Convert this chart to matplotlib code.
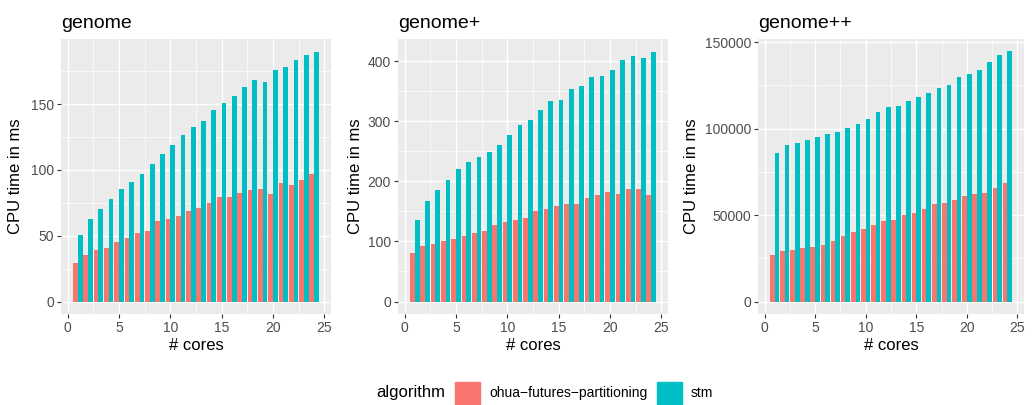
import numpy as np
import matplotlib
matplotlib.use('Agg')
import matplotlib.pyplot as plt
from matplotlib.patches import Rectangle

plt.rcParams['font.family'] = ['Liberation Sans', 'DejaVu Sans']

# --- data ---
cores = list(range(1, 25))
panels = ['genome', 'genome+', 'genome++']

genome_ohua = [29.3, 35.4, 39.1, 40.7, 45.2, 48.2, 52.0, 53.5, 61.1, 62.6, 64.9, 68.7,
               71.0, 74.7, 79.3, 79.3, 82.3, 84.6, 85.4, 81.6, 89.9, 88.4, 92.2, 96.7]
genome_stm = [50.5, 62.6, 70.2, 77.8, 85.4, 90.7, 96.7, 104.3, 111.9, 118.7, 126.3, 132.3,
              136.9, 145.2, 150.5, 155.8, 162.6, 167.9, 166.4, 175.5, 177.8, 183.8, 186.9, 189.9]

genomep_ohua = [81.3, 92.9, 96.3, 101.2, 104.6, 109.5, 114.5, 117.8, 127.8, 132.8, 136.1, 139.4,
                151.0, 154.4, 159.3, 162.7, 162.7, 172.6, 177.6, 182.6, 179.3, 187.6, 187.6, 177.6]
genomep_stm = [136.1, 167.6, 185.9, 202.5, 220.7, 232.4, 240.7, 249.0, 260.6, 277.2, 293.8, 302.1,
               318.7, 333.6, 335.3, 353.5, 358.5, 373.4, 375.1, 385.1, 401.7, 408.3, 406.6, 416.6]

genomepp_ohua = [26900, 29200, 29800, 31000, 31500, 32700, 35000, 37900, 40200, 41900, 44200, 46500,
                 47100, 50000, 51200, 53500, 56300, 56900, 58700, 61000, 62100, 62700, 65600, 68500]
genomepp_stm = [85800, 90400, 91500, 93300, 95000, 96700, 97900, 100200, 102500, 105400, 109400, 112300,
                112900, 115800, 118100, 120400, 123300, 125000, 129600, 131300, 133700, 138300, 142300, 144600]

ohua = [genome_ohua, genomep_ohua, genomepp_ohua]
stm = [genome_stm, genomep_stm, genomepp_stm]
y_major = [[0, 50, 100, 150], [0, 100, 200, 300, 400], [0, 50000, 100000, 150000]]
y_minor = [[25, 75, 125, 175], [50, 150, 250, 350], [25000, 75000, 125000]]

RED = '#F8766D'
TEAL = '#00BFC4'
W, H = 1033, 405

fig = plt.figure(figsize=(W / 100, H / 100), dpi=100)

# panel boxes in pixels: left, top, right, bottom
boxes = [(61, 39, 331, 314), (398, 39, 668, 314), (758, 39, 1024, 314)]
ylab_x = [16, 356, 692]

x = np.array(cores)
bw = 0.46
for i, (l, t, r, b) in enumerate(boxes):
    ax = fig.add_axes([l / W, 1 - b / H, (r - l) / W, (b - t) / H])
    ax.set_facecolor('#EBEBEB')
    for s in ax.spines.values():
        s.set_visible(False)
    ax.bar(x - bw / 2, ohua[i], width=bw, color=RED, zorder=3)
    ax.bar(x + bw / 2, stm[i], width=bw, color=TEAL, zorder=3)

    ymax = max(max(ohua[i]), max(stm[i]))
    ax.set_ylim(-0.05 * ymax, 1.05 * ymax)
    ax.set_xlim(0.55 - 0.05 * 23.9, 24.45 + 0.05 * 23.9)

    ax.set_xticks([0, 5, 10, 15, 20, 25])
    ax.set_xticks([2.5, 7.5, 12.5, 17.5, 22.5], minor=True)
    ax.set_yticks(y_major[i])
    ax.set_yticks(y_minor[i], minor=True)
    ax.grid(which='major', color='white', lw=1.0, zorder=1)
    ax.grid(which='minor', color='white', lw=0.5, zorder=1)
    ax.tick_params(which='major', length=2.75, width=0.8, color='#333333',
                   labelcolor='#4D4D4D', labelsize=10, pad=2.2)
    ax.tick_params(which='minor', length=0)

    fig.text(l / W, 1 - 28 / H, panels[i], fontsize=14, ha='left', va='baseline')
    fig.text((l + r) / 2 / W, 1 - 346 / H, '# cores', fontsize=12, ha='center', va='center')
    fig.text(ylab_x[i] / W, 1 - (t + b) / 2 / H, 'CPU time in ms', fontsize=12,
             rotation=90, ha='center', va='center')

# legend at the bottom
fig.text(445 / W, 1 - 393 / H, 'algorithm', fontsize=12, ha='right', va='center')
fig.patches.append(Rectangle((455 / W, 1 - 405 / H), 25 / W, 23 / H, color=RED,
                             transform=fig.transFigure, figure=fig))
fig.text(489 / W, 1 - 393 / H, 'ohua\u2212futures\u2212partitioning', fontsize=10,
         ha='left', va='center')
fig.patches.append(Rectangle((657 / W, 1 - 405 / H), 25 / W, 23 / H, color=TEAL,
                             transform=fig.transFigure, figure=fig))
fig.text(691 / W, 1 - 393 / H, 'stm', fontsize=10, ha='left', va='center')

fig.savefig('out.png', dpi=100)
